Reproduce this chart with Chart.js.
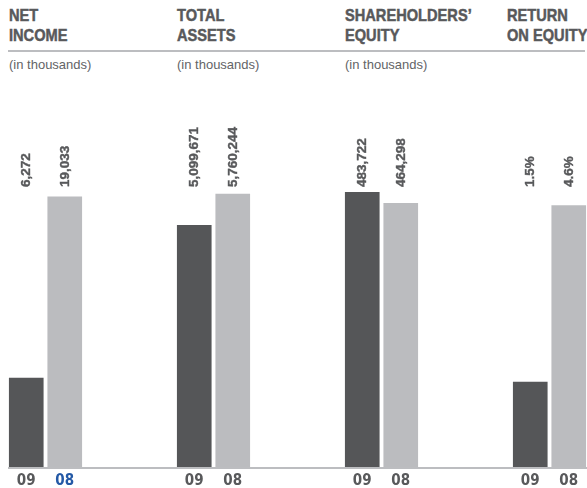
<!DOCTYPE html>
<html>
<head>
<meta charset="utf-8">
<title>Financial highlights</title>
<script src="https://cdn.jsdelivr.net/npm/chart.js@4.4.1/dist/chart.umd.min.js"></script>
<style>
  html, body { margin: 0; padding: 0; background: #fff; overflow: hidden; }
  body { position: relative; width: 587px; height: 488px; }
  .title {
    position: absolute; top: 6px; white-space: nowrap;
    font: bold 17px/20px 'Liberation Sans', Arial, sans-serif;
    color: #58595b; -webkit-text-stroke: 0.5px #58595b;
    transform: scaleX(0.86); transform-origin: 0 0;
  }
  .unit {
    position: absolute; top: 57px; white-space: nowrap;
    font: 13px/16px 'Liberation Sans', Arial, sans-serif; color: #636466;
  }
  .rule { position: absolute; height: 2px; background: #bcbdc0; }
  .panel { position: absolute; top: 110px; width: 77px; height: 378px; }
</style>
</head>
<body>
<div class="rule" style="left:8px; top:50px; width:577px;"></div>
<div class="rule" style="left:8px; top:467px; width:579px;"></div>

<script>
// years shown under every pair of bars (current year first)
const years = ['09', '08'];

const panelTitles = [
  ['NET', 'INCOME'],
  ['TOTAL', 'ASSETS'],
  ['SHAREHOLDERS\u2019', 'EQUITY'],
  ['RETURN', 'ON EQUITY']
];
const panelUnits = ['(in thousands)', '(in thousands)', '(in thousands)', ''];

const netIncome = [6272, 19033];
const totalAssets = [5099671, 5760244];
const shareholdersEquity = [483722, 464298];
const returnOnEquity = [1.5, 4.6];

// top of each panel's value axis
const axisMax = [19700, 5900000, 492500, 4.92];

const DARK = '#555658';
const LIGHT = '#bbbcbf';
const TEXT = '#58595b';
const BLUE = '#2459a6';

const thousands = v => v.toLocaleString('en-US');
const percent = v => v.toFixed(1) + '%';

const panels = [
  { values: netIncome, fmt: thousands, titleX: 9, left: 7 },
  { values: totalAssets, fmt: thousands, titleX: 177, left: 175 },
  { values: shareholdersEquity, fmt: thousands, titleX: 345, left: 343 },
  { values: returnOnEquity, fmt: percent, titleX: 507, left: 511 }
];

// vertical value labels, bottom-aligned just above the plot area
function valueLabels(fmt) {
  return {
    id: 'valueLabels',
    afterDatasetsDraw(chart) {
      const ctx = chart.ctx;
      const values = chart.data.datasets[0].data;
      ctx.save();
      ctx.fillStyle = TEXT;
      ctx.strokeStyle = TEXT;
      ctx.lineWidth = 0.4;
      ctx.font = "bold 13.5px 'Liberation Sans', Arial, sans-serif";
      ctx.textAlign = 'left';
      ctx.textBaseline = 'middle';
      chart.getDatasetMeta(0).data.forEach((bar, i) => {
        const text = fmt(values[i]);
        ctx.save();
        ctx.translate(bar.x + 0.5, chart.chartArea.top);
        ctx.rotate(-Math.PI / 2);
        ctx.fillText(text, 0, 0);
        ctx.strokeText(text, 0, 0);
        ctx.restore();
      });
      ctx.restore();
    }
  };
}

panels.forEach((p, i) => {
  const title = document.createElement('div');
  title.className = 'title';
  title.style.left = p.titleX + 'px';
  title.innerHTML = panelTitles[i].join('<br>');
  document.body.appendChild(title);

  if (panelUnits[i]) {
    const unit = document.createElement('div');
    unit.className = 'unit';
    unit.style.left = p.titleX + 'px';
    unit.textContent = panelUnits[i];
    document.body.appendChild(unit);
  }

  const wrap = document.createElement('div');
  wrap.className = 'panel';
  wrap.style.left = p.left + 'px';
  const canvas = document.createElement('canvas');
  canvas.width = 77;
  canvas.height = 378;
  wrap.appendChild(canvas);
  document.body.appendChild(wrap);

  new Chart(canvas, {
    type: 'bar',
    data: {
      labels: years,
      datasets: [{
        data: p.values,
        backgroundColor: [DARK, LIGHT],
        borderWidth: 0,
        barPercentage: 1,
        categoryPercentage: 0.9
      }]
    },
    options: {
      responsive: false,
      animation: false,
      events: [],
      layout: { padding: { top: 77 } },
      plugins: {
        legend: { display: false },
        tooltip: { enabled: false }
      },
      scales: {
        x: {
          grid: { display: false, drawTicks: false },
          border: { display: false },
          ticks: {
            padding: 5,
            color: c => (i === 0 && c.index === 1) ? BLUE : TEXT,
            font: { family: "'DejaVu Sans Condensed', 'Liberation Sans', sans-serif", size: 15, weight: 'bold' }
          },
          afterFit: s => { s.height = 21; }
        },
        y: { display: false, min: 0, max: axisMax[i] }
      }
    },
    plugins: [valueLabels(p.fmt)]
  });
});
</script>
</body>
</html>
